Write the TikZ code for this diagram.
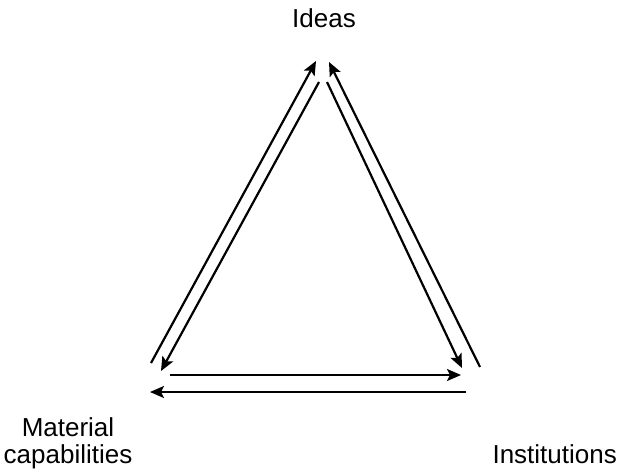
\documentclass[tikz,border=0pt]{standalone}
\usepackage{fontspec}
\setmainfont{Liberation Sans}
\usetikzlibrary{arrows.meta}
\begin{document}
\begin{tikzpicture}[x=1pt,y=-1pt,
  lbl/.style={font=\fontsize{26}{27}\selectfont, inner sep=0pt, align=center},
  flow/.style={line width=2.2pt, -{Stealth[length=14pt,width=12pt,inset=3pt]}}]
\useasboundingbox (0,0) rectangle (620,471);
% labels
\node[lbl, anchor=base] (ideas) at (324,27) {Ideas};
\node[lbl, anchor=base] (mat) at (68,463) {Material\\capabilities};
\node[lbl, anchor=base east] (inst) at (617,463) {Institutions};
% line ends
\coordinate (lo1) at (151,363); \coordinate (lo2) at (316,61);
\coordinate (li1) at (319,82);  \coordinate (li2) at (161,371);
\coordinate (ro1) at (480,367); \coordinate (ro2) at (329,62);
\coordinate (ri1) at (327,82);  \coordinate (ri2) at (462,368);
\coordinate (bt1) at (170,375); \coordinate (bt2) at (461,375);
\coordinate (bb1) at (466,392); \coordinate (bb2) at (150,392);
% connectors
\draw[flow] (lo1) -- (lo2);
\draw[flow] (li1) -- (li2);
\draw[flow] (ro1) -- (ro2);
\draw[flow] (ri1) -- (ri2);
\draw[flow] (bt1) -- (bt2);
\draw[flow] (bb1) -- (bb2);
\end{tikzpicture}
\end{document}
